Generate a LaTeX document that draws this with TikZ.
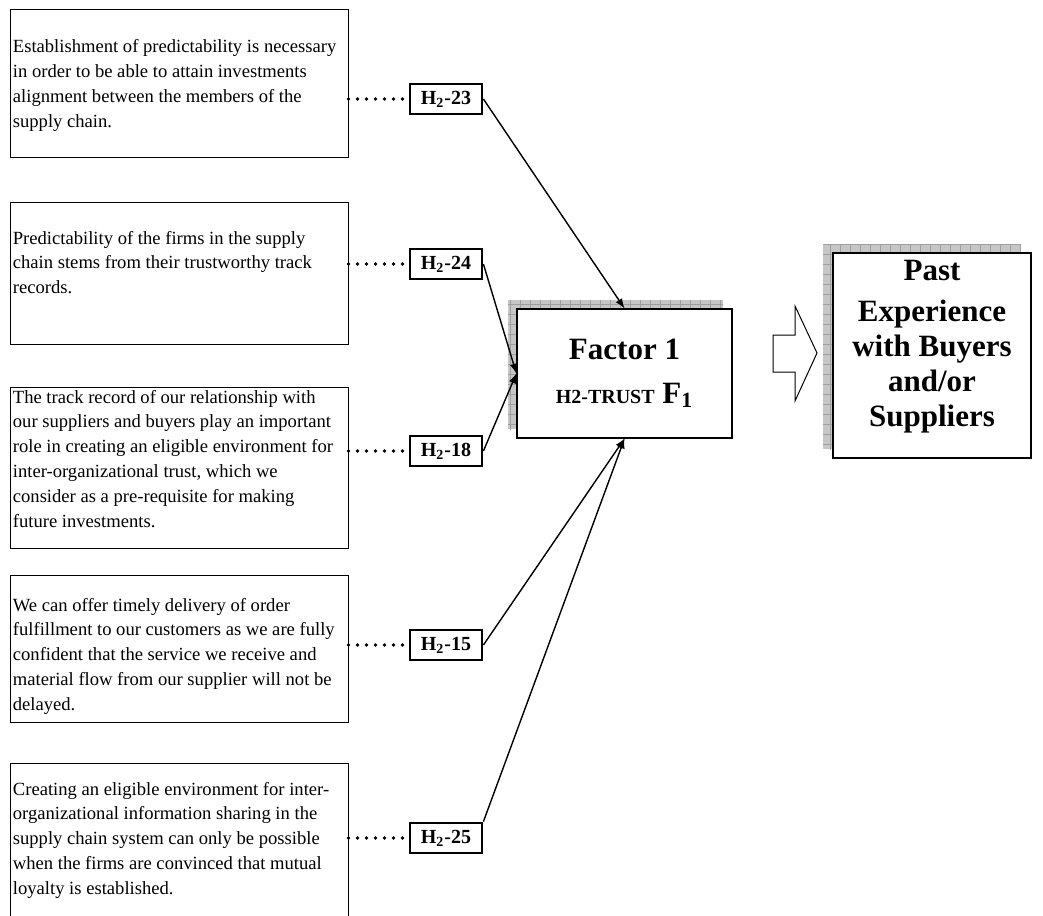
\documentclass[tikz,border=0pt]{standalone}
\usepackage{fontspec}
\setmainfont{Liberation Serif}
\usetikzlibrary{arrows,positioning,patterns}

% fine grey grid used for the box shadows
\pgfdeclarepatternformonly{shadegrid}{\pgfqpoint{-1pt}{-1pt}}{\pgfqpoint{6pt}{6pt}}{\pgfqpoint{5pt}{5pt}}{
  \pgfsetlinewidth{0.5pt}
  \pgfpathmoveto{\pgfqpoint{0pt}{0pt}}\pgfpathlineto{\pgfqpoint{5pt}{0pt}}
  \pgfpathmoveto{\pgfqpoint{0pt}{0pt}}\pgfpathlineto{\pgfqpoint{0pt}{5pt}}
  \pgfusepath{stroke}}

\begin{document}
\begin{tikzpicture}[x=0.5pt,y=-0.5pt]
\tikzset{STATEMENT/.style={draw,line width=0.5pt,rectangle,minimum width=169pt,inner sep=0pt}}
\tikzset{STATEMENT TEXT/.style={align=left,inner sep=0pt,font=\fontsize{9.3}{12.4}\selectfont}}
\tikzset{HYPOTHESIS/.style={draw,fill=white,line width=1.4pt,rectangle,minimum width=36pt,minimum height=15pt,inner sep=0pt,font=\fontsize{10}{12}\selectfont\bfseries}}
\tikzset{FACTOR/.style={draw,fill=white,line width=0.6pt,rectangle,inner sep=0pt,align=center,font=\fontsize{15.5}{17.5}\selectfont\bfseries}}
\tikzset{FACTOR TEXT/.style={inner sep=0pt,align=center,font=\fontsize{15.5}{17.5}\selectfont\bfseries}}

\tikzset{LINKS/.style={draw,line width=1.8pt,line cap=round,dash pattern=on 0pt off 4.5pt}}
\tikzset{LOADS/.style={draw,line width=0.7pt,-latex}}
\tikzset{SHADOW/.style={preaction={fill=gray!45},pattern=shadegrid,pattern color=gray!75}}

\useasboundingbox (0,0) rectangle (1043,915);
\clip (0,0) rectangle (1043,915);

% statements
\node[STATEMENT,minimum height=73.5pt] (s23) at (179,83.5) {};
\node[STATEMENT,minimum height=71pt] (s24) at (179,273) {};
\node[STATEMENT,minimum height=80.5pt] (s18) at (179,467.5) {};
\node[STATEMENT,minimum height=73.5pt] (s15) at (179,648.5) {};
\node[STATEMENT,minimum height=98.5pt] (s25) at (179,861.5) {};

\node[STATEMENT TEXT,below right=15pt and 1.5pt of s23.north west] (s23 text)
  {Establishment of predictability is necessary\\in order to be able to attain investments\\alignment between the members of the\\supply chain.};
\node[STATEMENT TEXT,below right=14.5pt and 1.5pt of s24.north west] (s24 text)
  {Predictability of the firms in the supply\\chain stems from their trustworthy track\\records.};
\node[STATEMENT TEXT,below right=1.5pt and 1.5pt of s18.north west] (s18 text)
  {The track record of our relationship with\\our suppliers and buyers play an important\\role in creating an eligible environment for\\inter-organizational trust, which we\\consider as a pre-requisite for making\\future investments.};
\node[STATEMENT TEXT,below right=11.5pt and 1.5pt of s15.north west] (s15 text)
  {We can offer timely delivery of order\\fulfillment to our customers as we are fully\\confident that the service we receive and\\material flow from our supplier will not be\\delayed.};
\node[STATEMENT TEXT,below right=9.5pt and 1.5pt of s25.north west] (s25 text)
  {Creating an eligible environment for inter-\\organizational information sharing in the\\supply chain system can only be possible\\when the firms are convinced that mutual\\loyalty is established.};

% hypotheses
\node[HYPOTHESIS] (h23) at (446,99) {H\textsubscript{2}-23};
\node[HYPOTHESIS] (h24) at (446,264) {H\textsubscript{2}-24};
\node[HYPOTHESIS] (h18) at (446,451) {H\textsubscript{2}-18};
\node[HYPOTHESIS] (h15) at (446,645) {H\textsubscript{2}-15};
\node[HYPOTHESIS] (h25) at (446,838) {H\textsubscript{2}-25};

\path[LINKS] (h23.west -| s23.east) -- (h23.west);
\path[LINKS] (h24.west -| s24.east) -- (h24.west);
\path[LINKS] (h18.west -| s18.east) -- (h18.west);
\path[LINKS] (h15.west -| s15.east) -- (h15.west);
\path[LINKS] (h25.west -| s25.east) -- (h25.west);

% factor and outcome, with their shadows
\path[SHADOW] (508,300) rectangle (723,429);
\node[FACTOR,minimum width=107.5pt,minimum height=64.5pt] (factor) at (624.5,373.5)
  {Factor 1\\[4.5pt]{\fontsize{10}{12}\selectfont H2-TRUST} F\textsubscript{1}};

\path[SHADOW] (823,244) rectangle (1021,449);
\node[FACTOR,minimum width=99pt,minimum height=102.5pt] (past) at (932,355.5) {};
\node[FACTOR TEXT] (past text) at (932,346.5)
  {Past\\[3pt]Experience\\with Buyers\\and/or\\Suppliers};

\path[LOADS] (h23.east) -- (factor.north);
\path[LOADS] (h24.east) -- (factor.west);
\path[LOADS] (h18.east) -- (factor.west);
\path[LOADS] (h15.east) -- (factor.south);
\path[LOADS] (h25.north east) -- (factor.south);

% hollow block arrow
\draw[line width=0.5pt] (773,335) -- (795,335) -- (795,306) -- (817,353)
  -- (795,401) -- (795,372) -- (773,372) -- cycle;

\end{tikzpicture}
\end{document}
